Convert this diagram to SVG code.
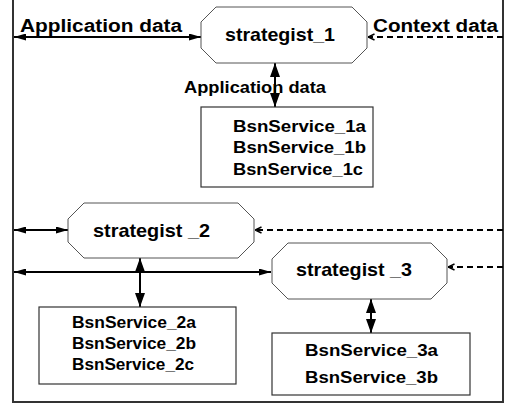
<svg xmlns="http://www.w3.org/2000/svg" width="510" height="408" viewBox="0 0 510 408">
  <style>
    .frame { fill: none; stroke: #333; stroke-width: 2; }
    .oct { fill: #fff; stroke: #555; stroke-width: 1; }
    .box { fill: #fff; stroke: #333; stroke-width: 1.2; }
    .t { font-family: "Liberation Sans", Arial, sans-serif; font-weight: bold; fill: #000; }
    .lbl { font-size: 18px; }
    .name { font-size: 18.5px; }
    .mid { font-size: 16.5px; }
    .svc { font-size: 17px; }
    .solid { fill: none; stroke: #000; stroke-width: 2; }
    .dash { fill: none; stroke: #000; stroke-width: 2; stroke-dasharray: 6 4; }
  </style>
  <defs>
    <marker id="headH" viewBox="0 0 12 7" refX="12" refY="3.5" markerWidth="12" markerHeight="7" markerUnits="userSpaceOnUse" orient="auto-start-reverse">
      <path d="M0,0 L12,3.5 L0,7 Z" fill="#000"/>
    </marker>
    <marker id="headV" viewBox="0 0 14 10" refX="14" refY="5" markerWidth="14" markerHeight="10" markerUnits="userSpaceOnUse" orient="auto-start-reverse">
      <path d="M0,0 L14,5 L0,10 Z" fill="#000"/>
    </marker>
    <marker id="headOpen" viewBox="0 0 8 8" refX="7.5" refY="4" markerWidth="8" markerHeight="8" markerUnits="userSpaceOnUse" orient="auto">
      <path d="M1,1 L7.5,4 L1,7" fill="none" stroke="#000" stroke-width="1.4"/>
    </marker>
  </defs>

  <!-- enclosing frame, open at the top -->
  <path class="frame" d="M13,0 V402 H503 V0"/>

  <!-- connectors -->
  <g id="connectors">
    <line class="solid" x1="14" y1="37" x2="201" y2="37" marker-start="url(#headH)" marker-end="url(#headH)"/>
    <line class="dash" x1="503" y1="37" x2="368" y2="37" marker-end="url(#headOpen)"/>
    <line class="solid" x1="275" y1="63" x2="275" y2="107" marker-start="url(#headV)" marker-end="url(#headV)"/>
    <line class="solid" x1="14" y1="230" x2="68" y2="230" marker-start="url(#headH)" marker-end="url(#headH)"/>
    <line class="dash" x1="503" y1="230" x2="255" y2="230" marker-end="url(#headOpen)"/>
    <line class="solid" x1="14" y1="272" x2="271" y2="272" marker-start="url(#headH)" marker-end="url(#headH)"/>
    <line class="solid" x1="140" y1="258" x2="140" y2="307" marker-start="url(#headV)" marker-end="url(#headV)"/>
    <line class="dash" x1="503" y1="267" x2="448" y2="267" marker-end="url(#headOpen)"/>
    <line class="solid" x1="371" y1="299" x2="371" y2="333" marker-start="url(#headV)" marker-end="url(#headV)"/>
  </g>

  <!-- edge labels -->
  <g id="labels">
    <text class="t lbl" x="20" y="32" textLength="162" lengthAdjust="spacingAndGlyphs">Application data</text>
    <text class="t lbl" x="373" y="32" textLength="125" lengthAdjust="spacingAndGlyphs">Context data</text>
    <text class="t mid" x="184" y="93" textLength="142" lengthAdjust="spacingAndGlyphs">Application data</text>
  </g>

  <g id="strategist_1">
    <polygon class="oct" points="216,7 352,7 367,22 367,48 352,63 216,63 201,48 201,22"/>
    <text class="t name" x="225" y="41" textLength="110" lengthAdjust="spacingAndGlyphs">strategist_1</text>
  </g>

  <g id="services_1">
    <rect class="box" x="201" y="107" width="172" height="80"/>
    <text class="t svc" x="233" y="132" textLength="133" lengthAdjust="spacingAndGlyphs">BsnService_1a</text>
    <text class="t svc" x="233" y="153" textLength="133" lengthAdjust="spacingAndGlyphs">BsnService_1b</text>
    <text class="t svc" x="233" y="175" textLength="130" lengthAdjust="spacingAndGlyphs">BsnService_1c</text>
  </g>

  <g id="strategist_2">
    <polygon class="oct" points="84,203 238,203 254,219 254,242 238,258 84,258 68,242 68,219"/>
    <text class="t name" x="93" y="237" textLength="117" lengthAdjust="spacingAndGlyphs">strategist _2</text>
  </g>

  <g id="strategist_3">
    <polygon class="oct" points="288,243 431,243 447,259 447,283 431,299 288,299 272,283 272,259"/>
    <text class="t name" x="296" y="276" textLength="116" lengthAdjust="spacingAndGlyphs">strategist _3</text>
  </g>

  <g id="services_2">
    <rect class="box" x="39" y="307" width="197" height="77"/>
    <text class="t svc" x="72" y="328" textLength="124" lengthAdjust="spacingAndGlyphs">BsnService_2a</text>
    <text class="t svc" x="72" y="349" textLength="124" lengthAdjust="spacingAndGlyphs">BsnService_2b</text>
    <text class="t svc" x="72" y="370" textLength="122" lengthAdjust="spacingAndGlyphs">BsnService_2c</text>
  </g>

  <g id="services_3">
    <rect class="box" x="272" y="333" width="198" height="62"/>
    <text class="t svc" x="305" y="356" textLength="133" lengthAdjust="spacingAndGlyphs">BsnService_3a</text>
    <text class="t svc" x="305" y="383" textLength="133" lengthAdjust="spacingAndGlyphs">BsnService_3b</text>
  </g>
</svg>
